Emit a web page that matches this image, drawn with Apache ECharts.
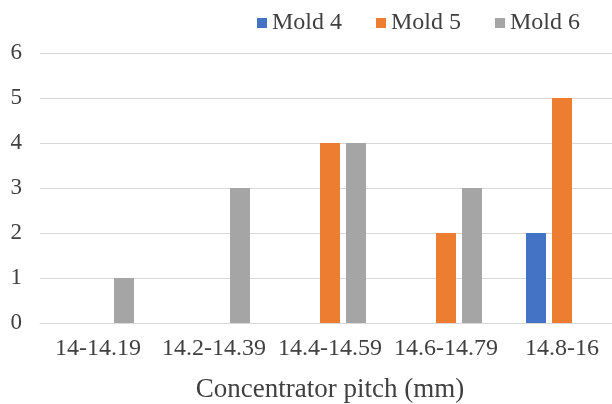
<!DOCTYPE html>
<html>
<head>
<meta charset="utf-8">
<script src="https://cdn.jsdelivr.net/npm/echarts@6/dist/echarts.min.js"></script>
<style>
  html, body { margin: 0; padding: 0; background: #fff; }
  #chart { width: 612px; height: 404px; }
</style>
</head>
<body>
<div id="chart"></div>
<script>
// data
var categories = ['14-14.19', '14.2-14.39', '14.4-14.59', '14.6-14.79', '14.8-16'];
var mold4 = [0, 0, 0, 0, 2];
var mold5 = [0, 0, 4, 2, 5];
var mold6 = [1, 3, 4, 3, 0];
var yTicks = [0, 1, 2, 3, 4, 5, 6];

var font = '"Liberation Serif", "Times New Roman", serif';
var textColor = '#404040';

var chart = echarts.init(document.getElementById('chart'));
chart.setOption({
    animation: false,
    textStyle: { fontFamily: font },
    color: ['#4472C4', '#ED7D31', '#A5A5A5'],
    legend: {
        left: 252,
        top: 6,
        itemWidth: 10,
        itemHeight: 10,
        itemGap: 34,
        icon: 'rect',
        textStyle: { fontFamily: font, fontSize: 24, color: textColor },
        data: ['Mold 4', 'Mold 5', 'Mold 6']
    },
    // plot runs past the right edge in the reference (it looks cropped)
    grid: { left: 40, right: -8, top: 53, bottom: 81, containLabel: false, outerBoundsMode: 'none' },
    xAxis: {
        type: 'category',
        data: categories,
        name: 'Concentrator pitch (mm)',
        nameLocation: 'middle',
        nameGap: 53,
        nameTextStyle: { fontFamily: font, fontSize: 27, color: textColor },
        axisLine: { lineStyle: { color: '#D9D9D9', width: 1 } },
        axisTick: { show: false },
        axisLabel: { fontFamily: font, fontSize: 24, color: textColor, margin: 14, interval: 0 }
    },
    yAxis: {
        type: 'value',
        min: yTicks[0],
        max: yTicks[yTicks.length - 1],
        interval: 1,
        axisLine: { show: false },
        axisTick: { show: false },
        splitLine: { lineStyle: { color: '#D9D9D9', width: 1 } },
        axisLabel: { fontFamily: font, fontSize: 23, color: textColor, margin: 18 }
    },
    series: [
        { name: 'Mold 4', type: 'bar', data: mold4, barWidth: 20, barGap: '30%' },
        { name: 'Mold 5', type: 'bar', data: mold5, barWidth: 20, barGap: '30%' },
        { name: 'Mold 6', type: 'bar', data: mold6, barWidth: 20, barGap: '30%' }
    ]
});
</script>
</body>
</html>
